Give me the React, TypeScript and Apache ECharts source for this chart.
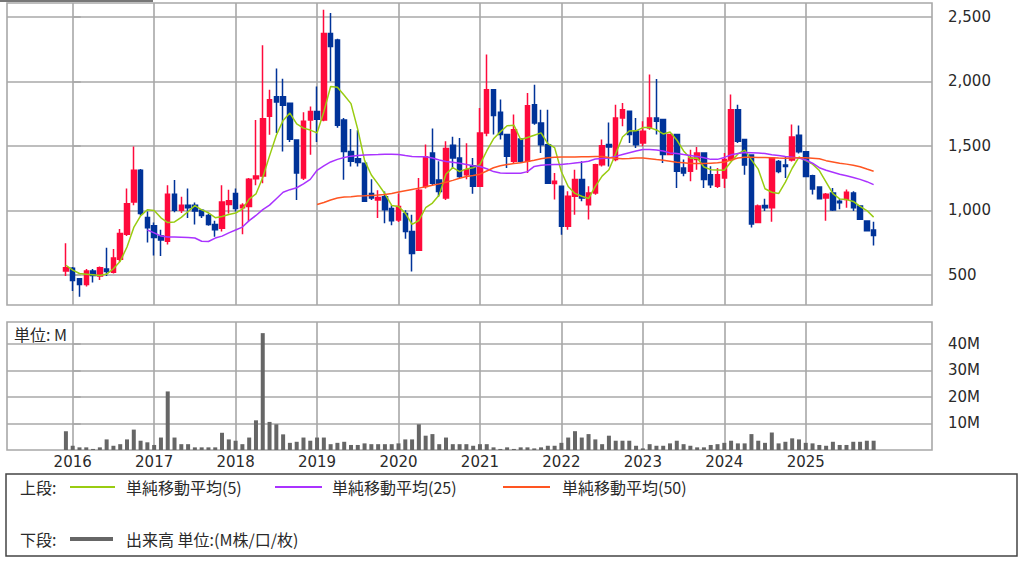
import React, { useEffect, useRef } from "react";
import * as echarts from "echarts";

// ---- data (monthly, 2015-12 .. 2025-11) ----
const firstMonth = { year: 2015, month: 12 };
const opens = [
  530,
  550, 470, 425, 530, 490, 545, 520, 620, 815, 1065, 1310, 945,
  880, 800, 760, 1125, 1000, 1040, 1040, 1000, 960, 890, 860, 1045,
  1130, 1020, 1030, 1245, 1265, 1730, 1880, 1880, 1830, 1545, 1250, 1700,
  1765, 1700, 2370, 2320, 1700, 1455, 1400, 1365, 1130, 1080, 1105, 1015,
  925, 975, 835, 690, 1185, 1445, 1235, 1095, 1505, 1405, 1275, 1346,
  1186, 1600, 1935, 1760, 1587, 1380, 1553, 1380, 1819, 1677, 1509, 1207,
  1186, 876, 1109, 1238, 1044, 1134, 1354, 1510, 1393, 1716, 1767, 1612,
  1522, 1638, 1716, 1703, 1432, 1587, 1328, 1302, 1393, 1444, 1276, 1186,
  1251, 1393, 1780, 1548, 1429, 906, 1038, 1020, 1378, 1352, 1390, 1582,
  1454, 1268, 1181, 1095, 1135, 1071, 1084, 1135, 1033, 918, 847,
];
const highs = [
  745,
  560, 475, 545, 545, 565, 710, 700, 855, 1170, 1495, 1320, 990,
  905, 850, 1195, 1235, 1105, 1170, 1060, 1010, 975, 920, 1195, 1160,
  1170, 1055, 1250, 1700, 2280, 1935, 2100, 2020, 1835, 1550, 1760, 1805,
  1960, 2555, 2530, 2330, 1715, 1630, 1620, 1370, 1240, 1155, 1145, 1040,
  1130, 1000, 965, 1250, 1510, 1635, 1380, 1535, 1570, 1560, 1520, 1406,
  1793, 2207, 1935, 1858, 1587, 1742, 1553, 1910, 1974, 1780, 1780, 1289,
  1186, 1147, 1315, 1380, 1186, 1360, 1548, 1680, 1819, 1832, 1767, 1716,
  1690, 2052, 2018, 1703, 1587, 1587, 1393, 1470, 1491, 1444, 1341, 1328,
  1444, 1897, 1819, 1548, 1429, 1046, 1089, 1403, 1390, 1416, 1666, 1658,
  1460, 1275, 1181, 1135, 1173, 1089, 1161, 1148, 1040, 920, 911,
];
const lows = [
  490,
  375, 330, 410, 440, 460, 490, 510, 600, 800, 1040, 960, 750,
  650, 645, 735, 985, 980, 940, 890, 940, 880, 795, 835, 975,
  990, 815, 915, 1195, 1210, 1585, 1600, 1455, 1530, 1080, 1235, 1430,
  1530, 1690, 2000, 1640, 1236, 1340, 1340, 1065, 1080, 940, 900, 885,
  910, 780, 525, 690, 1170, 1195, 1105, 1080, 1325, 1250, 1240, 1129,
  1186, 1574, 1587, 1548, 1328, 1367, 1370, 1289, 1664, 1444, 1205, 1083,
  811, 850, 966, 1070, 928, 1120, 1340, 1340, 1380, 1651, 1522, 1483,
  1496, 1625, 1587, 1367, 1432, 1173, 1264, 1225, 1315, 1173, 1173, 1173,
  1173, 1380, 1522, 1276, 867, 900, 995, 911, 1288, 1250, 1378, 1441,
  1258, 1122, 1085, 920, 995, 1008, 1020, 995, 925, 840, 727,
];
const closes = [
  555,
  455, 425, 530, 495, 555, 525, 630, 820, 1050, 1310, 975, 865,
  790, 770, 1125, 1000, 1040, 1020, 995, 960, 890, 850, 1065, 1075,
  1015, 1040, 1240, 1265, 1710, 1857, 1840, 1815, 1550, 1290, 1690, 1765,
  1705, 2370, 2270, 1660, 1455, 1380, 1370, 1070, 1095, 1100, 1005, 920,
  1030, 835, 665, 1155, 1415, 1210, 1145, 1480, 1405, 1262, 1315, 1186,
  1600, 1935, 1734, 1587, 1419, 1625, 1380, 1811, 1677, 1509, 1210, 1225,
  876, 1109, 1238, 1096, 1134, 1354, 1501, 1490, 1716, 1780, 1587, 1509,
  1612, 1716, 1690, 1432, 1587, 1302, 1289, 1406, 1444, 1238, 1199, 1276,
  1393, 1780, 1535, 1352, 893, 1033, 1020, 1403, 1301, 1339, 1569, 1454,
  1263, 1166, 1089, 1125, 1003, 1059, 1140, 1020, 931, 842, 804,
];
const ma5 = [
  574,
  536, 510, 505, 500, 495, 506, 547, 605, 716, 867, 957, 1004,
  998, 942, 905, 910, 945, 991, 1036, 1003, 981, 943, 952, 968,
  979, 1009, 1087, 1127, 1254, 1422, 1582, 1697, 1754, 1670, 1637, 1622,
  1600, 1764, 1960, 1954, 1892, 1827, 1627, 1387, 1274, 1203, 1128, 1038,
  1030, 978, 891, 921, 1020, 1056, 1118, 1281, 1331, 1300, 1321, 1330,
  1354, 1460, 1554, 1608, 1655, 1660, 1549, 1564, 1582, 1600, 1517, 1486,
  1299, 1185, 1131, 1109, 1091, 1186, 1265, 1315, 1439, 1568, 1615, 1616,
  1641, 1641, 1623, 1592, 1607, 1545, 1460, 1403, 1406, 1336, 1315, 1313,
  1310, 1377, 1437, 1467, 1391, 1319, 1167, 1140, 1130, 1219, 1326, 1413,
  1385, 1358, 1308, 1219, 1129, 1088, 1083, 1069, 1031, 998, 947,
];
const ma25 = [
  null,
  null, null, null, null, null, null, null, null, null, null, null, 847,
  825, 800, 793, 793, 792, 790, 785, 760, 758, 785, 800, 825,
  847, 870, 920, 960, 1005, 1040, 1090, 1140, 1160, 1175, 1205, 1240,
  1310, 1345, 1375, 1395, 1410, 1420, 1425, 1428, 1430, 1432, 1435, 1435,
  1433, 1425, 1418, 1415, 1415, 1405, 1390, 1378, 1372, 1365, 1355, 1345,
  1340, 1322, 1300, 1290, 1288, 1288, 1288, 1300, 1340, 1350, 1354, 1356,
  1356, 1360, 1367, 1372, 1380, 1398, 1402, 1405, 1418, 1432, 1446, 1460,
  1472, 1472, 1468, 1460, 1445, 1440, 1432, 1425, 1418, 1408, 1395, 1395,
  1410, 1430, 1440, 1448, 1447, 1445, 1440, 1430, 1425, 1418, 1412, 1405,
  1390, 1365, 1330, 1310, 1295, 1280, 1268, 1255, 1240, 1222, 1199,
];
const ma50 = [
  null,
  null, null, null, null, null, null, null, null, null, null, null, null,
  null, null, null, null, null, null, null, null, null, null, null, null,
  null, null, null, null, null, null, null, null, null, null, null, null,
  1045, 1060, 1080, 1095, 1103, 1106, 1110, 1112, 1115, 1118, 1122, 1130,
  1142, 1152, 1162, 1172, 1182, 1195, 1205, 1218, 1232, 1248, 1262, 1270,
  1280, 1305, 1330, 1345, 1355, 1362, 1368, 1378, 1388, 1400, 1408, 1412,
  1413, 1413, 1414, 1415, 1416, 1418, 1418, 1410, 1403, 1400, 1402, 1405,
  1405, 1400, 1393, 1388, 1380, 1372, 1368, 1363, 1362, 1362, 1365, 1368,
  1375, 1390, 1405, 1412, 1411, 1410, 1410, 1408, 1405, 1403, 1405, 1408,
  1407, 1404, 1400, 1385, 1375, 1365, 1358, 1350, 1338, 1320, 1303,
];
// volume, millions
const volume = [
  7.1,
  1.6, 1.0, 1.0, 0.4, 1.0, 4.0, 1.6, 2.2, 4.0, 7.7, 3.5, 2.9,
  1.9, 4.7, 22.1, 4.7, 2.2, 2.2, 1.0, 1.0, 1.0, 1.0, 6.5, 4.0,
  3.5, 2.2, 4.7, 11.2, 44.1, 10.6, 9.7, 5.9, 2.7, 3.1, 4.7, 3.5,
  4.7, 4.7, 2.2, 2.7, 3.1, 1.9, 1.9, 2.5, 2.2, 2.2, 2.2, 2.2,
  2.5, 4.0, 4.0, 9.7, 5.4, 6.0, 2.2, 4.7, 2.2, 2.2, 2.2, 1.6,
  2.2, 2.2, 1.0, 0.4, 1.0, 0.4, 1.0, 1.0, 0.6, 1.0, 1.6, 1.6,
  2.7, 4.7, 7.1, 4.7, 6.0, 4.0, 2.2, 5.4, 3.5, 3.5, 3.5, 1.6,
  0.6, 2.2, 1.6, 1.6, 2.5, 3.5, 2.2, 1.6, 1.0, 1.0, 1.9, 2.2,
  2.7, 3.5, 2.5, 2.5, 6.0, 3.5, 2.7, 6.6, 2.5, 3.1, 4.4, 4.0,
  2.7, 2.5, 1.9, 1.6, 3.1, 1.9, 1.9, 3.1, 3.1, 3.5, 3.5,
];
const yearLabels = ["2016", "2017", "2018", "2019", "2020", "2021", "2022", "2023", "2024", "2025"];
const priceTicks = [500, 1000, 1500, 2000, 2500];
const volumeTicks = [10, 20, 30, 40];
const legendTop = ["単純移動平均(5)", "単純移動平均(25)", "単純移動平均(50)"];
const legendBottom = "出来高 単位:(M株/口/枚)";

const RED = "#ff0a3c";
const BLUE = "#003399";
const GREEN = "#99cc11";
const PURPLE = "#aa33ff";
const ORANGE = "#ff5522";
const GRID = "#a8a8a8";
const TXT = "#2a2a2a";
const NUM_FONT = "DejaVu Sans";
const JP_FONT = "'Noto Sans CJK JP', sans-serif";
const LG = `16px ${JP_FONT}`;

export default function App() {
  const ref = useRef<HTMLDivElement>(null);
  useEffect(() => {
    document.body.style.margin = "0";
    const chart = echarts.init(ref.current!, null, { renderer: "svg" });
    // month index: 0 = 2016-01
    const idx = opens.map((_, i) => (firstMonth.year - 2016) * 12 + (firstMonth.month - 1) + i);
    const yearTicks = yearLabels.map((y) => (Number(y) - 2016) * 12);
    const candle = idx.map((m, i) => [m, opens[i], closes[i], lows[i], highs[i]]);
    const line = (arr: (number | null)[]) =>
      idx.map((m, i) => [m, arr[i]]).filter((p) => p[1] != null);
    const vol = idx.map((m, i) => [m, volume[i]]);
    const xMin = -9.68;
    const xMax = 126.6;
    const split = { show: true, lineStyle: { color: GRID, width: 1.6 } };

    const option: any = {
      animation: false,
      backgroundColor: "#ffffff",
      grid: [
        { left: 7, top: 3, width: 925, height: 302, show: true, borderColor: GRID, borderWidth: 1.6, backgroundColor: "#fff" },
        { left: 7, top: 322, width: 925, height: 128, show: true, borderColor: GRID, borderWidth: 1.6, backgroundColor: "#fff" },
      ],
      xAxis: [
        {
          type: "value", gridIndex: 0, min: xMin, max: xMax,
          axisLine: { show: false }, axisTick: { show: false, customValues: yearTicks },
          axisLabel: { show: false, customValues: yearTicks }, splitLine: split,
        },
        {
          type: "value", gridIndex: 1, min: xMin, max: xMax,
          axisLine: { show: false }, axisTick: { show: false, customValues: yearTicks },
          axisLabel: {
            show: true, customValues: yearTicks, margin: 4, color: TXT, fontSize: 15, fontFamily: NUM_FONT,
            formatter: (v: number) => yearLabels[Math.round(v / 12)] ?? "",
          },
          splitLine: split,
        },
      ],
      yAxis: [
        {
          type: "value", gridIndex: 0, position: "right", min: 266, max: 2607,
          axisLine: { show: false },
          axisTick: { show: true, length: 8, customValues: priceTicks, lineStyle: { color: GRID, width: 1.6 } },
          axisLabel: {
            customValues: priceTicks, margin: 16, color: TXT, fontSize: 15, fontFamily: NUM_FONT,
            formatter: (v: number) => v.toLocaleString("en-US"),
          },
          splitLine: split,
        },
        {
          type: "value", gridIndex: 1, position: "right", min: 0, max: 48.3,
          axisLine: { show: false },
          axisTick: { show: true, length: 8, customValues: volumeTicks, lineStyle: { color: GRID, width: 1.6 } },
          axisLabel: {
            customValues: volumeTicks, margin: 16, color: TXT, fontSize: 15, fontFamily: NUM_FONT,
            formatter: (v: number) => `${v}M`,
          },
          splitLine: split,
        },
      ],
      series: [
        {
          type: "candlestick", xAxisIndex: 0, yAxisIndex: 0,
          dimensions: ["m", "open", "close", "lowest", "highest"],
          encode: { x: 0, y: [1, 2, 3, 4] },
          data: candle, barWidth: 5,
          itemStyle: { color: RED, color0: BLUE, borderColor: RED, borderColor0: BLUE, borderWidth: 1.5 },
        },
        { type: "line", xAxisIndex: 0, yAxisIndex: 0, data: line(ma5), showSymbol: false, lineStyle: { color: GREEN, width: 1.5 }, z: 5 },
        { type: "line", xAxisIndex: 0, yAxisIndex: 0, data: line(ma25), showSymbol: false, lineStyle: { color: PURPLE, width: 1.5 }, z: 5 },
        { type: "line", xAxisIndex: 0, yAxisIndex: 0, data: line(ma50), showSymbol: false, lineStyle: { color: ORANGE, width: 1.5 }, z: 5 },
        { type: "bar", xAxisIndex: 1, yAxisIndex: 1, data: vol, barWidth: 4, itemStyle: { color: "#666666" } },
      ],
      graphic: [
        { type: "rect", shape: { x: 0, y: 0, width: 153, height: 2 }, style: { fill: "#777" }, z: 10 },
        { type: "text", x: 14, y: 334, style: { text: "単位: M", fill: TXT, font: LG, verticalAlign: "middle" }, z: 10 },
        { type: "rect", shape: { x: 6, y: 474, width: 1011, height: 82 }, style: { fill: "#fff", stroke: "#444", lineWidth: 1.5 }, z: 1 },
        { type: "text", x: 20, y: 487, style: { text: "上段:", fill: TXT, font: LG, verticalAlign: "middle" }, z: 10 },
        { type: "line", shape: { x1: 70, y1: 487, x2: 115, y2: 487 }, style: { stroke: GREEN, lineWidth: 2 }, z: 10 },
        { type: "text", x: 126, y: 487, style: { text: legendTop[0], fill: TXT, font: LG, verticalAlign: "middle" }, z: 10 },
        { type: "line", shape: { x1: 275, y1: 487, x2: 322, y2: 487 }, style: { stroke: PURPLE, lineWidth: 2 }, z: 10 },
        { type: "text", x: 332, y: 487, style: { text: legendTop[1], fill: TXT, font: LG, verticalAlign: "middle" }, z: 10 },
        { type: "line", shape: { x1: 503, y1: 487, x2: 550, y2: 487 }, style: { stroke: ORANGE, lineWidth: 2 }, z: 10 },
        { type: "text", x: 562, y: 487, style: { text: legendTop[2], fill: TXT, font: LG, verticalAlign: "middle" }, z: 10 },
        { type: "text", x: 20, y: 539, style: { text: "下段:", fill: TXT, font: LG, verticalAlign: "middle" }, z: 10 },
        { type: "line", shape: { x1: 70, y1: 539, x2: 113, y2: 539 }, style: { stroke: "#666", lineWidth: 4 }, z: 10 },
        { type: "text", x: 126, y: 539, style: { text: legendBottom, fill: TXT, font: LG, verticalAlign: "middle" }, z: 10 },
      ],
    };
    chart.setOption(option);
    return () => chart.dispose();
  }, []);
  return <div ref={ref} style={{ position: "absolute", left: 0, top: 0, width: 1024, height: 561 }} />;
}
